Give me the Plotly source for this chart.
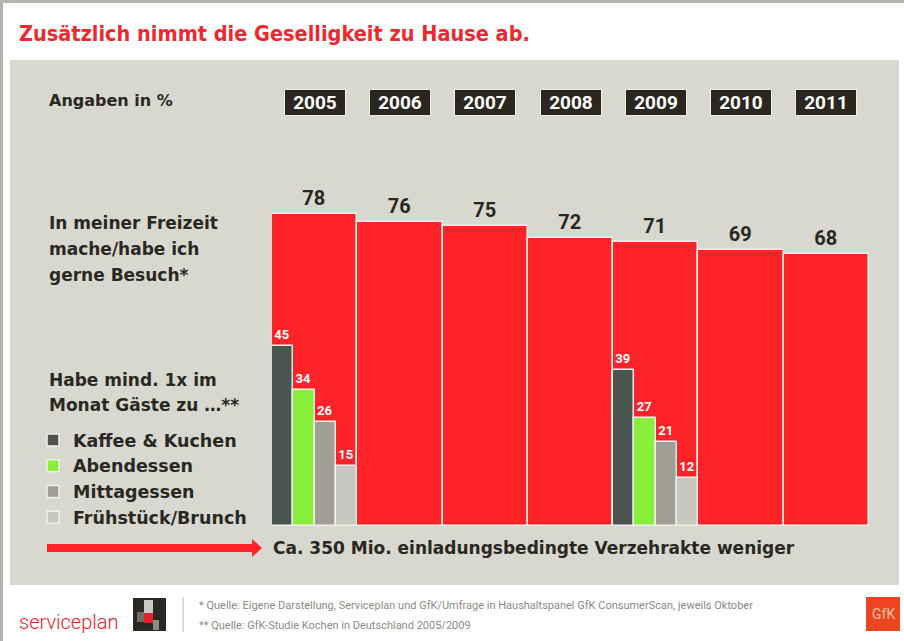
import plotly.graph_objects as go

# --- Daten -------------------------------------------------------------
years = ["2005", "2006", "2007", "2008", "2009", "2010", "2011"]
besuch = [78, 76, 75, 72, 71, 69, 68]          # "gerne Besuch" in %

umfrage_jahre = ["2005", "2009"]
kaffee = [45, 39]
abendessen = [34, 27]
mittagessen = [26, 21]
fruehstueck = [15, 12]
gruppen = ["Kaffee & Kuchen", "Abendessen", "Mittagessen", "Frühstück/Brunch"]

# --- Farben / Schriften -----------------------------------------------
RED = "#fe2328"
TITLE_RED = "#f0282d"
PANEL = "#d8d8d0"
DARK = "#2a2822"
EDGE = "#f2efea"
SUB_COLORS = ["#4a5550", "#88f03a", "#a09e96", "#c8c8c0"]
BODY = "DejaVu Sans, sans-serif"
NUM = "Roboto, DejaVu Sans, sans-serif"
NARROW = "DejaVu Sans Condensed, Roboto, sans-serif"

W, H = 904, 641
L, R, T, B = 272, 869, 126, 526   # Plotbereich in Pixeln


def px(x):
    return (x - L) / (R - L)


def py(y):
    return (B - y) / (B - T)


fig = go.Figure()
fig.add_trace(go.Bar(
    x=years, y=besuch, width=1, showlegend=False, hoverinfo="skip",
    marker=dict(color=RED, line=dict(color=EDGE, width=1.5)),
    text=besuch, textposition="outside", cliponaxis=False, constraintext="none",
    textfont=dict(family=NUM, size=20, color=DARK, weight="bold"),
))
for k, (name, vals) in enumerate(zip(gruppen, [kaffee, abendessen, mittagessen, fruehstueck])):
    fig.add_trace(go.Bar(
        x=umfrage_jahre, y=vals, width=0.25, offset=-0.5 + 0.25 * k,
        name=name, hoverinfo="skip",
        marker=dict(color=SUB_COLORS[k], line=dict(color=EDGE, width=1.5)),
        text=vals, textposition="outside", cliponaxis=False, constraintext="none",
        textfont=dict(family=NUM, size=13, color="white", weight="bold"),
    ))

shapes = [
    # grauer Rahmen oben / links
    dict(type="line", xref="paper", yref="paper", x0=px(0), x1=px(W), y0=py(1.5), y1=py(1.5),
         line=dict(color="#b4b4ac", width=3)),
    dict(type="line", xref="paper", yref="paper", x0=px(1.5), x1=px(1.5), y0=py(0), y1=py(H),
         line=dict(color="#b4b4ac", width=3)),
    # Panel
    dict(type="rect", xref="paper", yref="paper", x0=px(10), x1=px(899), y0=py(585), y1=py(60),
         fillcolor=PANEL, line=dict(width=0), layer="below"),
    # Trennlinie Footer
    dict(type="line", xref="paper", yref="paper", x0=px(183), x1=px(183), y0=py(597), y1=py(632),
         line=dict(color="#b8b8b2", width=1)),
    # serviceplan-Logo
    dict(type="rect", xref="paper", yref="paper", x0=px(133), x1=px(166), y0=py(631), y1=py(598),
         fillcolor="#2b2723", line=dict(width=0)),
    dict(type="rect", xref="paper", yref="paper", x0=px(144), x1=px(153), y0=py(613), y1=py(600),
         fillcolor="#c9c9c4", line=dict(width=0)),
    dict(type="rect", xref="paper", yref="paper", x0=px(137), x1=px(144), y0=py(622), y1=py(612),
         fillcolor="#6e6e68", line=dict(width=0)),
    dict(type="rect", xref="paper", yref="paper", x0=px(144), x1=px(153), y0=py(623), y1=py(613),
         fillcolor="#e8202a", line=dict(width=0)),
    dict(type="rect", xref="paper", yref="paper", x0=px(153), x1=px(159), y0=py(630), y1=py(620),
         fillcolor="#8e8e88", line=dict(width=0)),
    # GfK-Logo
    dict(type="rect", xref="paper", yref="paper", x0=px(866), x1=px(900), y0=py(631), y1=py(597),
         fillcolor="#ee4420", line=dict(width=0)),
]

# roter Pfeil
pts = [(47, 544), (252, 544), (252, 539), (262, 548), (252, 557), (252, 552), (47, 552)]
path = "M " + " L ".join(f"{px(x):.5f},{py(y):.5f}" for x, y in pts) + " Z"
shapes.append(dict(type="path", xref="paper", yref="paper", path=path,
                   fillcolor=RED, line=dict(width=0)))


def txt(x, y, text, size=17, color=DARK, family=BODY, weight="bold", anchor="left"):
    return dict(xref="paper", yref="paper", x=px(x), y=py(y), text=text, showarrow=False,
                xanchor=anchor, yanchor="middle", align="left",
                font=dict(family=family, size=size, color=color, weight=weight))


annotations = [
    txt(17, 33, "Zusätzlich nimmt die Geselligkeit zu Hause ab.", size=21.5,
        color=TITLE_RED, family=NARROW),
    txt(47, 100, "Angaben in %", size=16),
    txt(47, 223, "In meiner Freizeit"),
    txt(47, 249, "mache/habe ich"),
    txt(47, 275, "gerne Besuch*"),
    txt(47, 380, "Habe mind. 1x im"),
    txt(47, 405, "Monat Gäste zu …**"),
    txt(271, 548, "Ca. 350 Mio. einladungsbedingte Verzehrakte weniger", size=17),
    txt(17, 622, "serviceplan", size=20, color="#e8202a", weight=300, family=NUM),
    txt(197, 605, "* Quelle: Eigene Darstellung, Serviceplan und GfK/Umfrage in Haushaltspanel "
        "GfK ConsumerScan, jeweils Oktober", size=11, color="#8a8a84", weight="normal", family=NUM),
    txt(197, 625, "** Quelle: GfK-Studie Kochen in Deutschland 2005/2009", size=11,
        color="#8a8a84", weight="normal", family=NUM),
    txt(883, 614, "GfK", size=14, color="#f6c2a4", weight="normal", anchor="center", family=NUM),
]
for i, yr in enumerate(years):
    annotations.append(dict(
        xref="x", yref="paper", x=i, y=py(103), text=yr, showarrow=False,
        font=dict(family=NUM, size=19, color="white", weight="bold"),
        bgcolor="#2b2620", bordercolor="#f0f0e8", borderwidth=1, borderpad=1,
        width=58, height=23, xanchor="center", yanchor="middle",
    ))

fig.update_layout(
    width=W, height=H,
    margin=dict(l=L, r=W - R, t=T, b=H - B, pad=0),
    paper_bgcolor="white", plot_bgcolor="rgba(0,0,0,0)",
    barmode="overlay", bargap=0,
    xaxis=dict(type="category", range=[-0.5, 6.5], showticklabels=False, showgrid=False,
               zeroline=False, showline=False, ticks="", fixedrange=True),
    yaxis=dict(range=[0, 100], showticklabels=False, showgrid=False, zeroline=False,
               showline=False, ticks="", fixedrange=True),
    showlegend=True,
    legend=dict(x=px(33), y=py(422), xanchor="left", yanchor="top",
                bgcolor="rgba(0,0,0,0)", itemclick=False, itemdoubleclick=False,
                font=dict(family=BODY, size=17.5, color=DARK, weight="bold"),
                itemwidth=30, traceorder="normal"),
    shapes=shapes,
    annotations=annotations,
    hovermode=False,
)

fig.write_html("out.html", config={"displayModeBar": False},
               post_script="document.body.style.margin='0';")
